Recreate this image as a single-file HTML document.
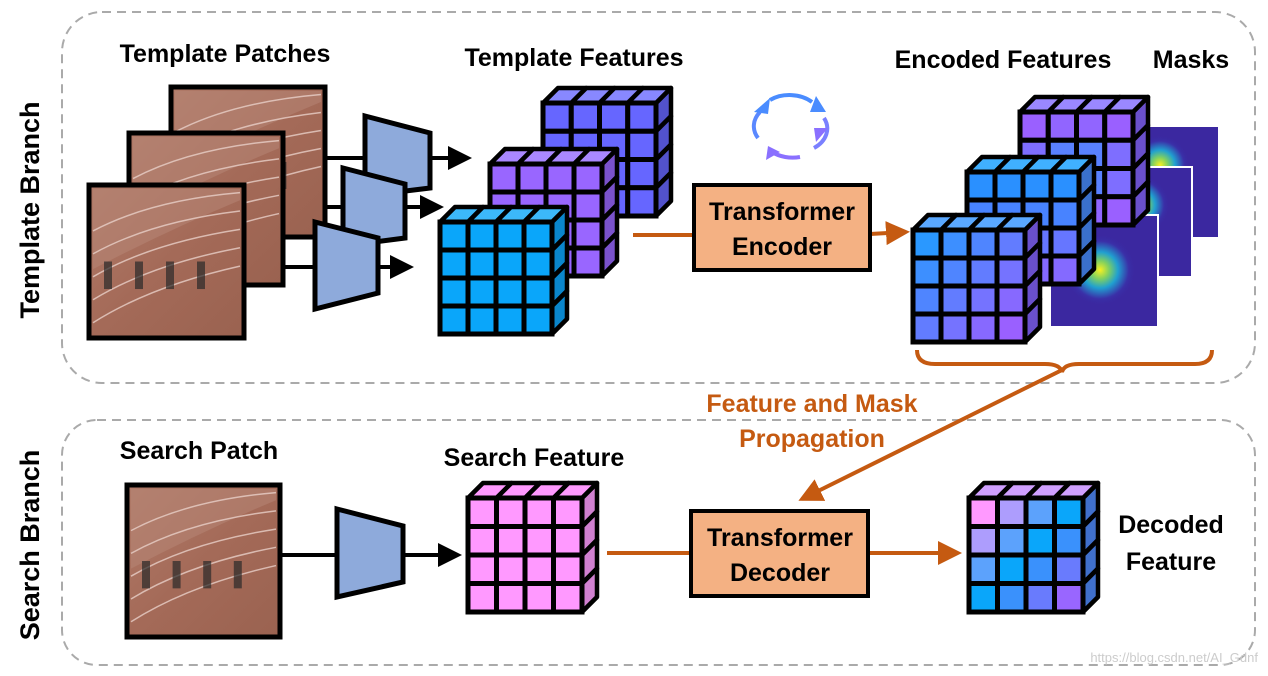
<!DOCTYPE html>
<html><head><meta charset="utf-8"><style>
html,body{margin:0;padding:0;background:#fff;}
svg{display:block;}
text{font-family:"Liberation Sans",sans-serif;font-weight:bold;}
</style></head><body>
<svg id="s" width="1268" height="676" viewBox="0 0 1268 676" xmlns="http://www.w3.org/2000/svg">
<defs>
<linearGradient id="img" x1="0" y1="0" x2="1" y2="1"><stop offset="0" stop-color="#b07a68"/><stop offset="0.5" stop-color="#a46a58"/><stop offset="1" stop-color="#9a6250"/></linearGradient>
<radialGradient id="blob"><stop offset="0" stop-color="#f8f020"/><stop offset="0.25" stop-color="#80d060"/><stop offset="0.5" stop-color="#20a0d0"/><stop offset="0.8" stop-color="#3a30a8"/><stop offset="1" stop-color="#3a28a0" stop-opacity="0"/></radialGradient>
<marker id="ab" markerWidth="6" markerHeight="6" refX="5" refY="3" orient="auto" markerUnits="strokeWidth"><path d="M0,0 L6,3 L0,6 z" fill="#000"/></marker>
<marker id="ao" markerWidth="6" markerHeight="6" refX="5" refY="3" orient="auto" markerUnits="strokeWidth"><path d="M0,0 L6,3 L0,6 z" fill="#c55a11"/></marker>
</defs>
<rect x="62" y="12" width="1193" height="371" rx="40" fill="none" stroke="#aaa" stroke-width="2" stroke-dasharray="9,6"/>
<rect x="62" y="420" width="1193" height="245" rx="35" fill="none" stroke="#aaa" stroke-width="2" stroke-dasharray="9,6"/>
<text transform="translate(39,210) rotate(-90)" text-anchor="middle" font-size="27">Template Branch</text>
<text transform="translate(39,545) rotate(-90)" text-anchor="middle" font-size="27">Search Branch</text>

<g font-size="25">
<text x="225" y="62" text-anchor="middle">Template Patches</text>
<text x="574" y="66" text-anchor="middle">Template Features</text>
<text x="1003" y="68" text-anchor="middle">Encoded Features</text>
<text x="1191" y="68" text-anchor="middle">Masks</text>
<text x="199" y="459" text-anchor="middle">Search Patch</text>
<text x="534" y="466" text-anchor="middle">Search Feature</text>
<text x="812" y="412" text-anchor="middle" fill="#c55a11">Feature and Mask</text>
<text x="812" y="447" text-anchor="middle" fill="#c55a11">Propagation</text>
<text x="1171" y="533" text-anchor="middle">Decoded</text>
<text x="1171" y="570" text-anchor="middle">Feature</text>
</g>
<text x="1258" y="662" text-anchor="end" font-size="13" fill="#ccc" style="font-weight:normal">https://blog.csdn.net/AI_Gdnf</text>

<g stroke="#000" fill="none" stroke-width="4">
<line x1="320" y1="158" x2="468" y2="158" marker-end="url(#ab)"/>
<line x1="280" y1="207" x2="440" y2="207" marker-end="url(#ab)"/>
<line x1="240" y1="267" x2="410" y2="267" marker-end="url(#ab)"/>
<line x1="278" y1="555" x2="458" y2="555" marker-end="url(#ab)"/>
</g>
<g id="imgs"></g>
<g stroke="#000" stroke-width="5" fill="#8eaadb">
<polygon points="365,116 430,133 430,188 365,196"/>
<polygon points="343,168 405,184 405,238 343,246"/>
<polygon points="315,222 378,238 378,293 315,309"/>
<polygon points="337,509 403,526 403,582 337,597"/>
</g>
<g id="cubes"></g>
<!-- masks -->
<rect x="1110" y="127" width="108" height="110" fill="#3b28a0"/>
<circle cx="1160" cy="165" r="30" fill="url(#blob)"/>
<rect x="1084" y="167" width="108" height="110" fill="#3b28a0" stroke="#fff" stroke-width="2"/>
<circle cx="1140" cy="205" r="30" fill="url(#blob)"/>
<rect x="1050" y="215" width="108" height="112" fill="#3b28a0" stroke="#fff" stroke-width="2"/>
<circle cx="1100" cy="270" r="36" fill="url(#blob)"/>
<g id="cubes2"></g>
<path d="M917,350 Q917,364 935,364 L1045,364 Q1060,364 1062,372 Q1064,364 1079,364 L1195,364 Q1212,364 1212,350" fill="none" stroke="#c55a11" stroke-width="4"/>
<g stroke="#c55a11" stroke-width="4" fill="none">
<line x1="633" y1="235" x2="693" y2="235"/>
<line x1="870" y1="234" x2="906" y2="232" marker-end="url(#ao)"/>
<line x1="1062" y1="370" x2="802" y2="499" marker-end="url(#ao)"/>
<line x1="607" y1="553" x2="690" y2="553"/>
<line x1="869" y1="553" x2="958" y2="553" marker-end="url(#ao)"/>
</g>
<rect x="694" y="185" width="176" height="85" fill="#f4b183" stroke="#000" stroke-width="4"/>
<text x="782" y="220" text-anchor="middle" font-size="25">Transformer</text>
<text x="782" y="255" text-anchor="middle" font-size="25">Encoder</text>
<rect x="691" y="511" width="177" height="85" fill="#f4b183" stroke="#000" stroke-width="4"/>
<text x="780" y="546" text-anchor="middle" font-size="25">Transformer</text>
<text x="780" y="581" text-anchor="middle" font-size="25">Decoder</text>
<!-- cycle icon -->
<g fill="none" stroke-width="4">
<path d="M770,100 A32,24 0 0 1 812,102" stroke="#4a8cff"/>
<path d="M824,118 A32,24 0 0 1 814,148" stroke="#7a80ff"/>
<path d="M800,157 A32,24 0 0 1 772,152" stroke="#8a70ff"/>
<path d="M758,138 A32,24 0 0 1 760,112" stroke="#5a88ff"/>
</g>
<polygon points="816,96 826,112 810,112" fill="#4a8cff"/>
<polygon points="828,128 816,142 814,128" fill="#8a70ff"/>
<polygon points="766,160 768,146 780,152" fill="#8a70ff"/>
<polygon points="754,112 770,98 768,114" fill="#4a8cff"/>
</svg>
<script>
const NS="http://www.w3.org/2000/svg";
function el(p,t,a){const e=document.createElementNS(NS,t);for(const k in a)e.setAttribute(k,a[k]);p.appendChild(e);return e;}
function mix(a,b,t){t=Math.max(0,Math.min(1,t));const pa=[1,3,5].map(i=>parseInt(a.substr(i,2),16)),pb=[1,3,5].map(i=>parseInt(b.substr(i,2),16));return "rgb("+pa.map((v,i)=>Math.round(v+(pb[i]-v)*t)).join(",")+")";}
function cube(g,x,y,s,d,cf,top,side){
 const c=s/4;
 for(let i=0;i<4;i++){
  el(g,'polygon',{points:`${x+i*c},${y} ${x+i*c+d},${y-d} ${x+(i+1)*c+d},${y-d} ${x+(i+1)*c},${y}`,fill:top,stroke:'#000','stroke-width':4.5,'stroke-linejoin':'round'});
  el(g,'polygon',{points:`${x+s},${y+i*c} ${x+s+d},${y+i*c-d} ${x+s+d},${y+(i+1)*c-d} ${x+s},${y+(i+1)*c}`,fill:side,stroke:'#000','stroke-width':4.5,'stroke-linejoin':'round'});
 }
 for(let r=0;r<4;r++)for(let k=0;k<4;k++)el(g,'rect',{x:x+k*c,y:y+r*c,width:c,height:c,fill:cf(r,k),stroke:'#000','stroke-width':5});
}
const g=document.getElementById('cubes'),g2=document.getElementById('cubes2');
cube(g,543,103,113,15,()=>'#6666ff','#8888ff','#5252cc');
cube(g,490,164,112,15,()=>'#9966ff','#aa88ff','#7a52cc');
cube(g,440,222,112,15,()=>'#0aa6fa','#3cb8fa','#0a86cc');
cube(g2,1020,112,113,15,(r,k)=>mix('#2a98ff','#9a60ff',Math.abs(r-1.5)/2+Math.abs(k-1.5)/3),'#9a88ff','#6a50cc');
cube(g2,967,172,112,15,(r,k)=>mix('#2a90ff','#9a60ff',r/3*0.8),'#40b0ff','#3a70cc');
cube(g2,913,230,112,15,(r,k)=>mix('#2a98ff','#9a60ff',(r+k)/6),'#5aa8ff','#6a50cc');
cube(g2,468,498,114,15,()=>'#ff99ff','#ff99ff','#d080d0');
cube(g2,969,498,114,15,(r,k)=>{const t=(r+k)/3;return t<1?mix('#ff99ff','#0aa6fa',t):mix('#0aa6fa','#9966ff',t-1);},'#d0a0ff','#4070cc');
const ig=document.getElementById('imgs');
function img(x,y,w,h){
 el(ig,'rect',{x,y,width:w,height:h,fill:'url(#img)',stroke:'#000','stroke-width':5});
 el(ig,'path',{d:`M${x+4},${y+h*0.55} Q${x+w*0.5},${y+h*0.3} ${x+w-4},${y+h*0.1} L${x+w-4},${y+4} L${x+4},${y+4} Z`,fill:'#b88878',opacity:0.5});
 for(let i=0;i<5;i++)el(ig,'path',{d:`M${x+4},${y+h*0.3+i*h*0.15} Q${x+w*0.4},${y+h*0.1+i*h*0.14} ${x+w-4},${y+h*0.05+i*h*0.12}`,fill:'none',stroke:'#e8d0c8','stroke-width':1.5,opacity:0.8});
 for(let i=0;i<4;i++)el(ig,'rect',{x:x+15+i*w/5,y:y+h*0.5,width:8,height:h*0.18,fill:'#2a2a2a',opacity:0.7});
}
img(171,87,154,150);img(129,133,154,152);img(89,185,155,153);img(127,485,153,152);
</script>
</body></html>
